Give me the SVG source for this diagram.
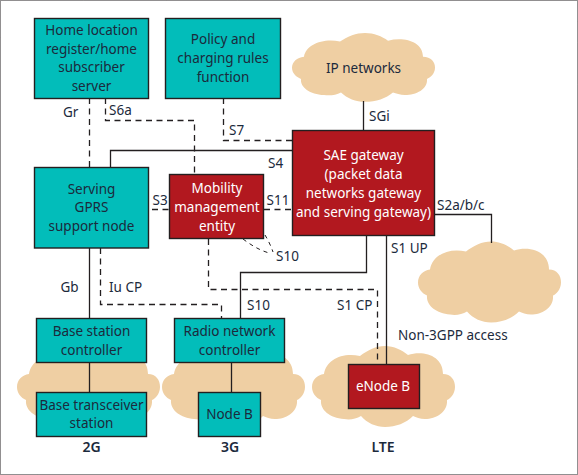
<svg xmlns="http://www.w3.org/2000/svg" xmlns:xlink="http://www.w3.org/1999/xlink" width="578" height="475" viewBox="0 0 578 475">
<style>
text{font-family:"Noto Sans","Open Sans","Liberation Sans",sans-serif;font-size:13.5px;fill:#1c2a3c;text-anchor:middle}
.w{fill:#fff}
.l{text-anchor:start}
.b{font-weight:600;font-size:14px}
.t{fill:#02bdba;stroke:#231f20;stroke-width:1.4}
.r{fill:#b2181f;stroke:#231f20;stroke-width:1.4}
.c{fill:none;stroke:#231f20;stroke-width:1.3}
.d{stroke-dasharray:6 4.5}
.s{stroke-dasharray:4 4;stroke-width:1}
.cl{fill:#efcfa3}
</style>
<defs>
<path id="cloud" d="M12 28C14 14 30 6 48 10C56 4 64 0 73 0C82 0 90 4 96 9C112 4 131 10 131 28C139 28 143 34 143 41C143 48 138 53 135 54C136 66 124 73 113 73C108 73 104 71 101 70C94 77 84 81 73 81C64 81 55 77 49 70C44 73 38 74 32 73C18 72 8 64 9 54C4 52 0 47 0 41C0 34 5 29 12 28Z"/>
</defs>
<rect x="0.5" y="0.5" width="577" height="474" fill="#fff" stroke="#231f20" stroke-width="1" stroke-dasharray="1 1"/>
<g id="clouds" class="cl">
<use id="cloud-ip" xlink:href="#cloud" transform="translate(292 33) scale(1 .85)"/>
<use id="cloud-non3gpp" xlink:href="#cloud" transform="translate(418 241.500)"/>
<use id="cloud-2g" xlink:href="#cloud" transform="translate(17 346)"/>
<use id="cloud-3g" xlink:href="#cloud" transform="translate(162 346)"/>
<use id="cloud-lte" xlink:href="#cloud" transform="translate(312 346)"/>
</g>
<g id="connectors">
<path class="c d" d="M89.500 98V167.500"/>
<path class="c d" d="M105.500 98V120.500H194.500V174"/>
<path class="c d" d="M223.500 98V140.500H292"/>
<path class="c" d="M110.500 167V150.500H292"/>
<path class="c d" d="M152 209.500H169M264 209.500H292"/>
<path class="c" d="M89.500 248V318"/>
<path class="c d" d="M100.500 248V304.500H221.500V318"/>
<path class="c d" d="M208.500 239V289.500H377.500V364"/>
<path class="c" d="M240.500 318V272.500H366.500V235.500"/>
<path class="c" d="M386.500 235.500V364"/>
<path class="c" d="M363.500 101V130"/>
<path class="c" d="M434.500 214.500H491.500V243"/>
<path class="c" d="M89.500 362V392"/>
<path class="c" d="M231.500 362V392"/>
<path class="c s" d="M243 239C251 245 259 250 269 253"/>
<path class="c s" d="M265 235C268 240 271 246 273 252"/>
</g>
<g id="hlr"><rect class="t" x="34.500" y="18.500" width="114" height="80"/><text x="91.500" y="35">Home location</text><text x="91.500" y="54">register/home</text><text x="91.500" y="72">subscriber</text><text x="91.500" y="91">server</text></g>
<g id="pcrf"><rect class="t" x="165.500" y="18.500" width="115" height="80"/><text x="223" y="44">Policy and</text><text x="223" y="63">charging rules</text><text x="223" y="82">function</text></g>
<g id="sgsn"><rect class="t" x="34.500" y="167.500" width="114" height="80.500"/><text x="91.500" y="194">Serving</text><text x="91.500" y="212">GPRS</text><text x="91.500" y="231">support node</text></g>
<g id="mme"><rect class="r" x="169.500" y="174.500" width="94" height="64"/><text class="w" x="217" y="193">Mobility</text><text class="w" x="217" y="212">management</text><text class="w" x="217" y="231">entity</text></g>
<g id="sae"><rect class="r" x="292.500" y="130.500" width="142" height="105"/><text class="w" x="363.500" y="160">SAE gateway</text><text class="w" x="363.500" y="179">(packet data</text><text class="w" x="363.500" y="198">networks gateway</text><text class="w" x="363.500" y="217">and serving gateway)</text></g>
<g id="bsc"><rect class="t" x="36.500" y="318.500" width="110" height="44"/><text x="91.500" y="336">Base station</text><text x="91.500" y="355">controller</text></g>
<g id="bts"><rect class="t" x="36.500" y="392.500" width="110" height="44"/><text x="91.500" y="410">Base transceiver</text><text x="91.500" y="428">station</text></g>
<g id="rnc"><rect class="t" x="174.500" y="318.500" width="110" height="44"/><text x="229.500" y="336">Radio network</text><text x="229.500" y="355">controller</text></g>
<g id="nodeb"><rect class="t" x="198.500" y="392.500" width="62" height="44"/><text x="229.500" y="419">Node B</text></g>
<g id="enodeb"><rect class="r" x="348.500" y="364.500" width="71" height="44"/><text class="w" x="383" y="391">eNode B</text></g>
<g id="labels">
<text x="363.500" y="73">IP networks</text>
<text class="l" x="369" y="121">SGi</text>
<text class="l" x="63" y="117">Gr</text>
<text class="l" x="109" y="115">S6a</text>
<text class="l" x="229" y="135">S7</text>
<text class="l" x="268" y="168">S4</text>
<text class="l" x="152.500" y="205">S3</text>
<text class="l" x="266.500" y="205">S11</text>
<text class="l" x="276" y="261">S10</text>
<text class="l" x="437" y="210">S2a/b/c</text>
<text class="l" x="60.500" y="292">Gb</text>
<text class="l" x="109" y="292">Iu CP</text>
<text class="l" x="247" y="310">S10</text>
<text class="l" x="337" y="310">S1 CP</text>
<text class="l" x="391" y="253">S1 UP</text>
<text class="l" x="398" y="340">Non-3GPP access</text>
<text class="b" x="91.500" y="452">2G</text>
<text class="b" x="230" y="452">3G</text>
<text class="b" x="383" y="452">LTE</text>
</g>
</svg>
